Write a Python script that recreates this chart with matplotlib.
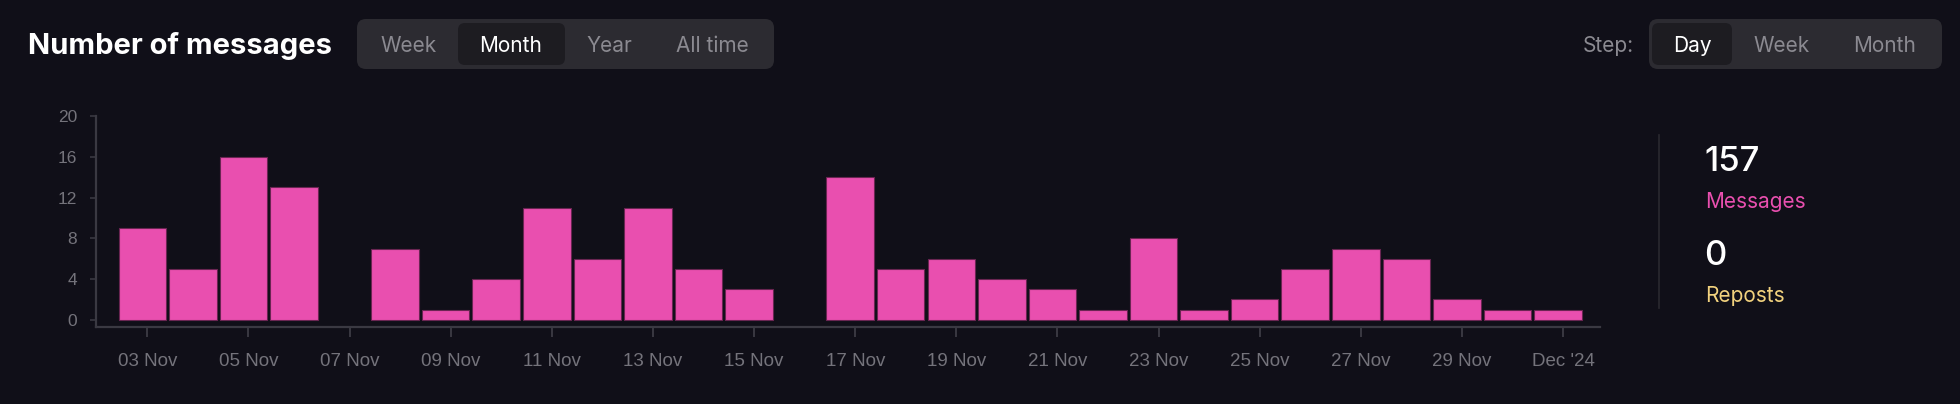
import numpy as np
import matplotlib
matplotlib.use("Agg")
import matplotlib.pyplot as plt
from matplotlib.patches import FancyBboxPatch

# Daily message counts, 03 Nov .. 01 Dec 2024
days = ["03 Nov", "04 Nov", "05 Nov", "06 Nov", "07 Nov", "08 Nov", "09 Nov",
        "10 Nov", "11 Nov", "12 Nov", "13 Nov", "14 Nov", "15 Nov", "16 Nov",
        "17 Nov", "18 Nov", "19 Nov", "20 Nov", "21 Nov", "22 Nov", "23 Nov",
        "24 Nov", "25 Nov", "26 Nov", "27 Nov", "28 Nov", "29 Nov", "30 Nov",
        "Dec '24"]
messages = [9, 5, 16, 13, 0, 7, 1, 4, 11, 6, 11, 5, 3, 0, 14, 5, 6, 4, 3, 1,
            8, 1, 2, 5, 7, 6, 2, 1, 1]
y_ticks = [0, 4, 8, 12, 16, 20]
range_buttons = ["Week", "Month", "Year", "All time"]
step_buttons = ["Day", "Week", "Month"]
total_messages = 157
total_reposts = 0

BG = "#100f18"
PINK = "#e94faf"
YELLOW = "#f2d27e"
GRID = "#3a3942"
TICK_TXT = "#74737b"
BTN_BG = "#2c2b31"
BTN_ACTIVE = "#1d1c21"
BTN_TXT = "#8b8a91"

W, H = 1960, 404
fig = plt.figure(figsize=(W / 100, H / 100), dpi=100, facecolor=BG)

# overlay in pixel coordinates for header / side panel
ov = fig.add_axes([0, 0, 1, 1], zorder=0)
ov.set_xlim(0, W)
ov.set_ylim(H, 0)
ov.axis("off")
ov.patch.set_alpha(0)

ov.text(28, 46, "Number of messages", color="white", fontsize=21,
        fontweight="bold", family="Inter", va="center", ha="left")

def pill(x0, x1, y0, y1, color, r):
    ov.add_patch(FancyBboxPatch((x0 + r, y0 + r), x1 - x0 - 2 * r, y1 - y0 - 2 * r,
                                boxstyle=f"round,pad={r}", fc=color, ec="none"))

pill(357, 774, 19, 69, BTN_BG, 9)
pill(458, 565, 23, 65, BTN_ACTIVE, 7)
for label, cx in zip(range_buttons, [409, 511, 609, 712]):
    ov.text(cx, 46, label, color="white" if label == "Month" else BTN_TXT,
            fontsize=15, family="Inter", ha="center", va="center")

ov.text(1634, 46, "Step:", color=BTN_TXT, fontsize=15, family="Inter",
        ha="right", va="center")
pill(1649, 1942, 19, 69, BTN_BG, 9)
pill(1652, 1732, 23, 65, BTN_ACTIVE, 7)
for label, cx in zip(step_buttons, [1692, 1782, 1885]):
    ov.text(cx, 46, label, color="white" if label == "Day" else BTN_TXT,
            fontsize=15, family="Inter", ha="center", va="center")

# side panel
ov.plot([1659, 1659], [135, 308], color="#2a2930", lw=1.2)
ov.text(1704, 162, str(total_messages), color="white", fontsize=25,
        family="Inter", fontweight="medium", ha="left", va="center")
ov.text(1705, 202, "Messages", color=PINK, fontsize=15, family="Inter",
        ha="left", va="center")
ov.text(1704, 256, str(total_reposts), color="white", fontsize=25,
        family="Inter", fontweight="medium", ha="left", va="center")
ov.text(1705, 296, "Reposts", color=YELLOW, fontsize=15, family="Inter",
        ha="left", va="center")

# bar chart
ax = fig.add_axes([96 / W, 1 - 327 / H, (1600 - 96) / W, (327 - 116) / H], zorder=1)
ax.patch.set_alpha(0)
x = np.arange(len(messages))
ax.bar(x, messages, width=0.94, color=PINK, edgecolor="#6a2552",
       linewidth=[0.8 if v else 0 for v in messages])
ax.set_xlim(-0.915, 28.83)
ax.set_ylim(-0.7, 20)

ax.set_yticks(y_ticks)
ax.set_yticklabels([str(v) for v in y_ticks])
ax.set_xticks(x[::2] + 0.1)
ax.set_xticklabels(days[::2])

for side in ["top", "right"]:
    ax.spines[side].set_visible(False)
for side in ["left", "bottom"]:
    ax.spines[side].set_color(GRID)
    ax.spines[side].set_linewidth(1.6)
ax.spines["left"].set_bounds(-0.7, 20)

ax.tick_params(axis="x", colors=GRID, length=7, width=1.4, pad=12,
               labelcolor=TICK_TXT, labelsize=13.5)
ax.tick_params(axis="y", colors=GRID, length=4.5, width=1.2, pad=9,
               labelcolor=TICK_TXT, labelsize=12.5)
for lab in ax.get_xticklabels() + ax.get_yticklabels():
    lab.set_family("Liberation Sans")

fig.savefig("out.png", dpi=100, facecolor=BG)
